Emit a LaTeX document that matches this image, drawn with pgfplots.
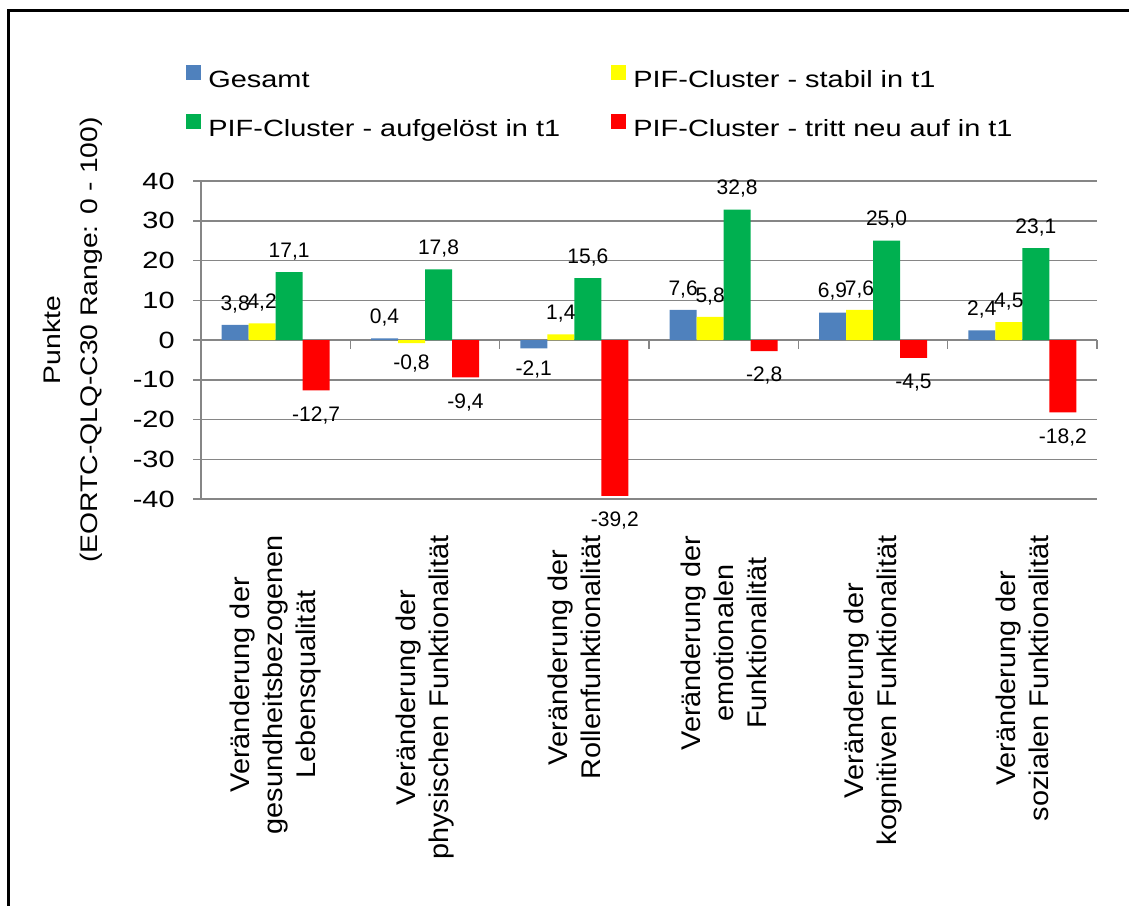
\documentclass[border=0pt]{standalone}
\usepackage{fontspec}
\setmainfont{Liberation Sans}[FakeStretch=1.23]
\newfontfamily\catfont{Liberation Sans}[FakeStretch=1.07]
\newfontfamily\ylabfont{Liberation Sans}[FakeStretch=1.18]
\newfontfamily\lblfont{Liberation Sans}
\usepackage{pgfplots}
\pgfplotsset{compat=1.18}

\definecolor{axisgray}{RGB}{134,134,134}
\definecolor{cBlue}{RGB}{79,129,189}
\definecolor{cYellow}{RGB}{255,255,0}
\definecolor{cGreen}{RGB}{0,176,80}
\definecolor{cRed}{RGB}{255,0,0}

\begin{document}
\begin{tikzpicture}
\useasboundingbox (0,0) rectangle (564.5pt,-452.5pt);
% outer chart frame (runs past the page edge on the right and bottom)
\begin{scope}
  \clip (0,0) rectangle (564.5pt,-452.5pt);
  \draw[line width=1.35pt] (4.35pt,-5.35pt) rectangle (620pt,-520pt);
\end{scope}
\begin{axis}[
  at={(100.5pt,-249.5pt)}, anchor=south west,
  scale only axis, width=448pt, height=159pt,
  xmin=-0.5, xmax=5.5, ymin=-40, ymax=40,
  clip=false,
  axis y line*=left, axis x line*=bottom,
  x axis line style={draw=none},
  y axis line style={draw=axisgray, line width=0.75pt},
  xtick={0,...,5},
  xticklabels={
    {Veränderung der\\gesundheitsbezogenen\\Lebensqualität},
    {Veränderung der\\physischen Funktionalität},
    {Veränderung der\\Rollenfunktionalität},
    {Veränderung der\\emotionalen\\Funktionalität},
    {Veränderung der\\kognitiven Funktionalität},
    {Veränderung der\\sozialen Funktionalität}},
  xtick style={draw=none},
  xtick align=inside,
  xticklabel shift=14pt,
  xticklabel style={font=\catfont\fontsize{13.5pt}{16.5pt}\selectfont,
    rotate=90, anchor=east, align=center, inner sep=0pt},
  ytick={-40,-30,...,40},
  ytick align=outside,
  major tick length=4pt,
  ytick style={draw=axisgray, line width=0.75pt},
  yticklabel shift=9pt,
  yticklabel style={font=\fontsize{11.75pt}{14pt}\selectfont, anchor=east, inner sep=0pt},
  ymajorgrids,
  major grid style={draw=axisgray, line width=0.75pt},
  /pgf/number format/assume math mode=true,
  ybar=0pt, bar width=13.5pt,
  nodes near coords={\pgfmathprintnumber[fixed,fixed zerofill,precision=1,use comma]{\pgfplotspointmeta}},
  every node near coord/.append style={font=\lblfont\fontsize{10.5pt}{12pt}\selectfont,
    inner sep=0pt, outer ysep=6pt, text=black},
  legend columns=2,
  legend cell align=left,
  legend image code/.code={\fill[#1] (0pt,0.5pt) rectangle (7.5pt,8pt);},
  legend style={at={(axis description cs:-0.01674,1.3648)}, anchor=north west,
    draw=none, fill=none, inner sep=0pt, row sep=11pt,
    font=\fontsize{11.75pt}{14pt}\selectfont,
    nodes={inner sep=0pt, text height=8.5pt, text depth=2.5pt},
    /tikz/every odd column/.style={column sep=3.5pt},
    /tikz/every even column/.style={column sep=25.6pt}},
  ylabel={Punkte\\(EORTC-QLQ-C30 Range: 0 - 100)},
  every axis y label/.style={at={(axis description cs:-0.1429,0.5)}, rotate=90,
    anchor=center, align=center, font=\ylabfont\fontsize{12pt}{18.35pt}\selectfont},
]
\addplot[fill=cBlue, draw=none] coordinates {(0,3.8) (1,0.4) (2,-2.1) (3,7.6) (4,6.9) (5,2.4)};
\addplot[fill=cYellow, draw=none] coordinates {(0,4.2) (1,-0.8) (2,1.4) (3,5.8) (4,7.6) (5,4.5)};
\addplot[fill=cGreen, draw=none] coordinates {(0,17.1) (1,17.8) (2,15.6) (3,32.8) (4,25.0) (5,23.1)};
\addplot[fill=cRed, draw=none, every node near coord/.append style={outer ysep=8pt}]
  coordinates {(0,-12.7) (1,-9.4) (2,-39.2) (3,-2.8) (4,-4.5) (5,-18.2)};
\legend{Gesamt, PIF-Cluster - stabil in t1, PIF-Cluster - aufgelöst in t1, PIF-Cluster - tritt neu auf in t1}
% category boundary ticks on the zero line
\pgfplotsinvokeforeach{-0.5,0.5,1.5,2.5,3.5,4.5,5.5}{
  \draw[axisgray, line width=0.75pt] (axis cs:#1,0) -- ([yshift=-4.5pt]axis cs:#1,0);
}
\end{axis}
\end{tikzpicture}
\end{document}
